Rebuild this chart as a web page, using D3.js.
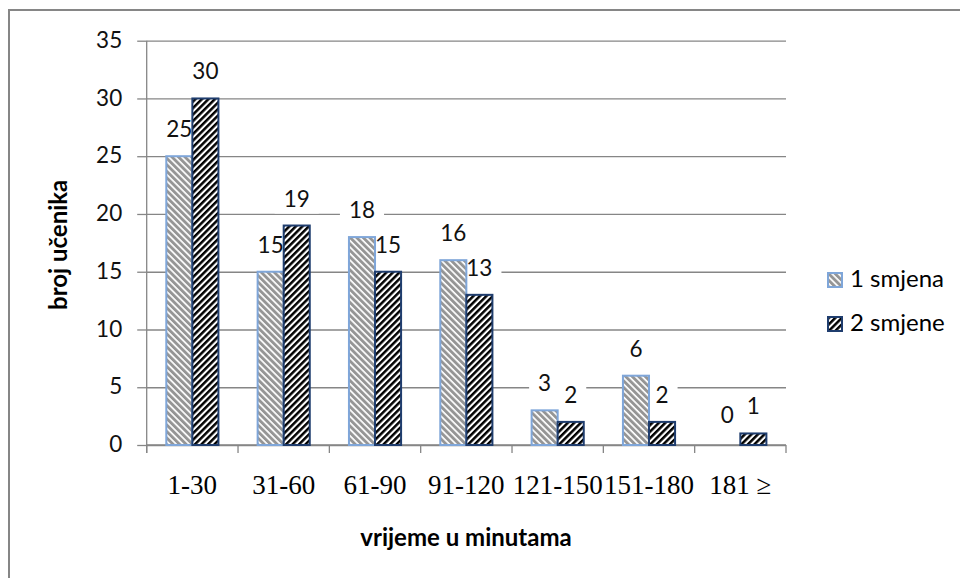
<!DOCTYPE html>
<html>
<head>
<meta charset="utf-8">
<script src="https://cdn.jsdelivr.net/npm/d3@7/dist/d3.min.js"></script>
<style>
  html, body { margin: 0; padding: 0; background: #fff; }
  svg { display: block; }
</style>
</head>
<body>
<svg id="chart" width="960" height="578"></svg>
<script>
// ---- data ----
const categories = ["1-30", "31-60", "61-90", "91-120", "121-150", "151-180", "181 \u2265"];
const seriesNames = ["1 smjena", "2 smjene"];
const smjena1 = [25, 15, 18, 16, 3, 6, 0];
const smjena2 = [30, 19, 15, 13, 2, 2, 1];
const yTicks = [0, 5, 10, 15, 20, 25, 30, 35];
const yTitle = "broj u\u010denika";
const xTitle = "vrijeme u minutama";

// ---- layout ----
const svg = d3.select("#chart");
const plotL = 146.7, plotR = 786, plotT = 40.7, plotB = 445;
const gridColor = "#868686";
const sansFont = "Lato, 'Open Sans', sans-serif";
const serifFont = "'Liberation Serif', 'DejaVu Serif', serif";

// outer chart border (only top and left visible)
svg.append("rect")
  .attr("x", 9).attr("y", 10).attr("width", 1200).attr("height", 1200)
  .attr("fill", "none").attr("stroke", gridColor).attr("stroke-width", 2);

// patterns
const defs = svg.append("defs");
function stripePattern(id, color, angle, w) {
  const s = 4.6;
  const p = defs.append("pattern")
    .attr("id", id).attr("patternUnits", "userSpaceOnUse")
    .attr("width", s).attr("height", s)
    .attr("patternTransform", `rotate(${angle})`);
  p.append("rect").attr("width", s).attr("height", s).attr("fill", "#fff");
  p.append("rect").attr("x", 0).attr("y", 0).attr("width", w).attr("height", s).attr("fill", color);
}
stripePattern("pat1", "#959595", -45, 2.9);
stripePattern("pat2", "#000000", 45, 2.5);
const fills = ["url(#pat1)", "url(#pat2)"];
const strokes = ["#7FA6D9", "#1F3D6E"];

// scales
const x = d3.scaleBand().domain(categories).range([plotL, plotR]).paddingInner(0).paddingOuter(0);
const bw = x.bandwidth();
const xs = d3.scaleBand().domain([0, 1]).range([19.6, bw - 19.6]);
const y = d3.scaleLinear().domain([0, 35]).range([plotB, plotT]);

// gridlines
svg.append("g")
  .attr("transform", `translate(${plotL},0)`)
  .call(d3.axisLeft(y).tickValues(yTicks).tickSize(-(plotR - plotL)).tickFormat(""))
  .call(g => g.select(".domain").remove())
  .call(g => g.selectAll("line").attr("stroke", gridColor).attr("stroke-width", 1.3));

// y axis
svg.append("g")
  .attr("transform", `translate(${plotL},0)`)
  .call(d3.axisLeft(y).tickValues(yTicks).tickSize(9.5).tickPadding(15).tickSizeOuter(0))
  .call(g => g.select(".domain").attr("stroke", gridColor).attr("stroke-width", 1.3)
      .attr("d", `M0,${plotT}V${plotB + 8}`))
  .call(g => g.selectAll("line").attr("stroke", gridColor).attr("stroke-width", 1.3))
  .call(g => g.selectAll("text").attr("font-family", sansFont).attr("font-size", 22.5)
      .attr("fill", "#111").attr("dy", "0.3em"));

// x axis line + tick marks at band boundaries
const xg = svg.append("g").attr("transform", `translate(0,${plotB})`);
xg.append("line").attr("x1", plotL).attr("x2", plotR).attr("y1", 0).attr("y2", 0)
  .attr("stroke", gridColor).attr("stroke-width", 1.3);
const bounds = categories.map(c => x(c)).concat([x.range()[1]]);
xg.selectAll("line.tk").data(bounds).enter().append("line")
  .attr("class", "tk")
  .attr("x1", d => d).attr("x2", d => d).attr("y1", 0).attr("y2", 8)
  .attr("stroke", gridColor).attr("stroke-width", 1.3);

// x labels via axis
svg.append("g")
  .attr("transform", `translate(0,${plotB})`)
  .call(d3.axisBottom(x).tickSize(0).tickPadding(0))
  .call(g => g.select(".domain").remove())
  .call(g => g.selectAll("text").attr("font-family", serifFont).attr("font-size", 27)
      .attr("fill", "#000").attr("y", 49).attr("dy", 0));

const allSeries = [smjena1, smjena2];

// data labels with white boxes (drawn beneath the bars)
allSeries.forEach((vals, si) => {
  const g = svg.append("g");
  vals.forEach((v, i) => {
    const cx = x(categories[i]) + xs(si) + xs.bandwidth() / 2;
    const by = y(v) - (v === 0 ? 22 : 19);
    const t = g.append("text")
      .attr("x", cx).attr("y", by)
      .attr("text-anchor", "middle")
      .attr("font-family", sansFont).attr("font-size", 22.5).attr("fill", "#111")
      .text(v);
    const bb = t.node().getBBox();
    g.insert("rect", "text")
      .attr("x", bb.x - 9).attr("y", bb.y - 2)
      .attr("width", bb.width + 18).attr("height", bb.height + 4)
      .attr("fill", "#fff");
  });
});

// bars
allSeries.forEach((vals, si) => {
  svg.append("g").selectAll("rect").data(vals).enter().append("rect")
    .attr("x", (d, i) => x(categories[i]) + xs(si))
    .attr("y", d => y(d))
    .attr("width", xs.bandwidth())
    .attr("height", d => y(0) - y(d))
    .attr("fill", fills[si])
    .attr("stroke", d => d > 0 ? strokes[si] : "none")
    .attr("stroke-width", 2);
});

// axis titles
svg.append("text")
  .attr("transform", `translate(67,${(plotT + plotB) / 2 + 2}) rotate(-90)`)
  .attr("text-anchor", "middle")
  .attr("font-family", sansFont).attr("font-weight", "bold").attr("font-size", 24)
  .attr("fill", "#000").text(yTitle);

svg.append("text")
  .attr("x", 466).attr("y", 546)
  .attr("text-anchor", "middle")
  .attr("font-family", sansFont).attr("font-weight", "bold").attr("font-size", 24)
  .attr("fill", "#000").text(xTitle);

// legend
const lg = svg.append("g");
seriesNames.forEach((name, si) => {
  const ly = 287 + si * 44;
  lg.append("rect")
    .attr("x", 828).attr("y", ly - 14).attr("width", 14).attr("height", 14)
    .attr("fill", fills[si]).attr("stroke", strokes[si]).attr("stroke-width", 2);
  lg.append("text")
    .attr("x", 850).attr("y", ly)
    .attr("font-family", sansFont).attr("font-size", 24).attr("fill", "#000")
    .text(name);
});
</script>
</body>
</html>
